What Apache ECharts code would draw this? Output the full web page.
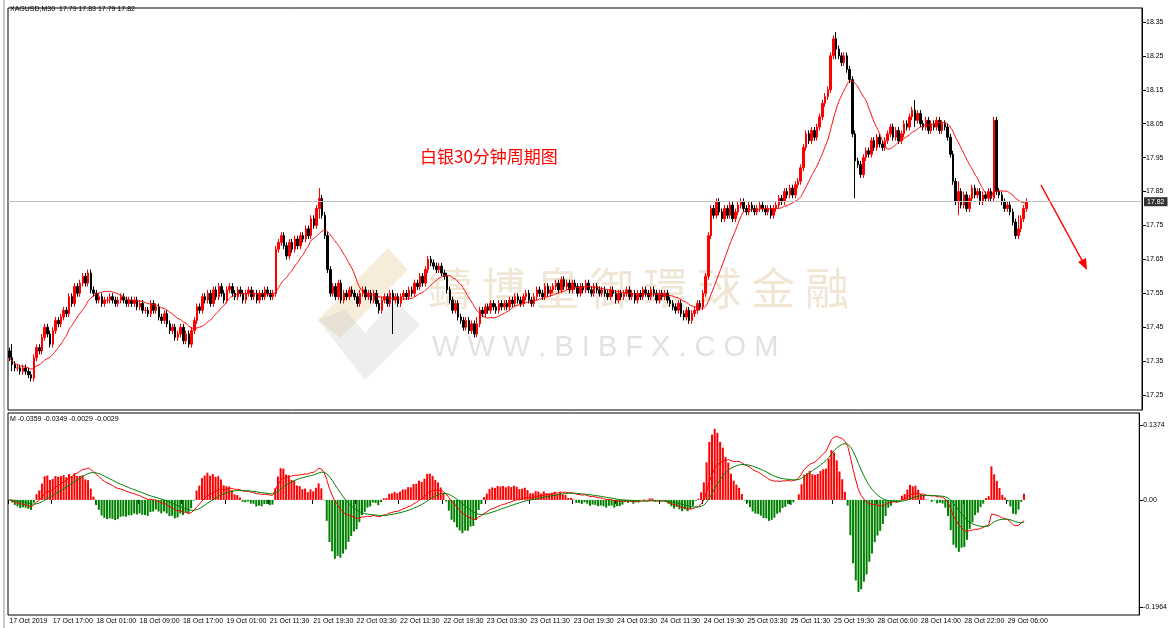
<!DOCTYPE html>
<html><head><meta charset="utf-8">
<script src="https://cdn.jsdelivr.net/npm/echarts@6/dist/echarts.min.js"></script>
<style>html,body{margin:0;padding:0;background:#fff}#c{width:1170px;height:628px}</style>
</head><body><div id="c"></div>
<script>
const closes = [
17.36,17.34,17.33,17.33,17.32,17.33,17.32,17.31,17.30,
17.36,17.39,17.38,17.42,17.45,17.43,17.40,17.44,17.47,17.46,
17.48,17.50,17.49,17.54,17.52,17.57,17.55,17.58,17.60,17.58,17.61,17.56,
17.55,17.53,17.54,17.52,17.53,17.53,17.54,17.53,17.52,17.53,17.54,17.53,17.52,17.53,17.52,17.53,
17.51,17.52,17.50,17.50,17.49,17.52,17.50,17.51,17.48,17.47,17.49,
17.46,17.44,17.45,17.42,17.43,17.45,17.41,17.43,17.40,
17.44,17.47,17.51,17.50,17.54,17.53,
17.55,17.52,17.56,17.54,17.57,17.55,17.53,17.56,17.57,17.55,17.54,17.56,17.55,17.53,17.55,17.56,17.54,17.55,17.53,17.55,17.54,17.56,17.55,17.54,17.55,
17.68,17.70,17.72,17.69,17.66,17.70,17.68,17.71,17.69,17.72,
17.71,17.74,17.72,17.77,17.75,17.80,17.83,17.78,
17.72,17.62,17.55,
17.57,17.54,17.58,17.53,17.55,17.54,17.56,17.55,17.54,17.52,17.55,17.56,17.54,17.55,17.53,17.55,17.52,17.50,17.53,17.54,17.52,17.55,17.53,17.54,17.52,17.54,17.55,17.54,17.56,
17.55,17.58,17.57,17.60,17.58,17.62,17.65,17.64,
17.63,17.62,17.63,17.61,17.60,
17.56,17.53,17.50,17.52,17.48,17.47,17.45,17.47,17.44,17.46,17.43,17.46,
17.50,17.49,17.51,17.50,17.52,17.51,17.50,17.52,17.51,
17.52,17.51,17.53,17.52,17.54,17.53,17.52,17.54,17.55,17.53,17.52,17.54,17.56,17.55,17.54,17.57,17.55,17.56,
17.57,17.58,17.56,17.59,17.57,17.58,17.56,17.58,17.57,17.55,17.57,17.56,17.58,17.56,17.55,17.57,17.56,17.55,17.56,
17.55,17.54,17.56,17.55,17.53,17.55,17.54,17.55,17.56,17.54,17.55,17.53,17.55,17.54,17.56,17.55,17.54,17.56,17.55,17.53,17.55,17.54,17.55,17.53,17.52,
17.51,17.50,17.52,17.49,17.48,17.50,17.47,17.49,
17.50,17.52,17.51,17.55,17.60,
17.72,17.80,17.78,17.82,
17.79,17.77,17.80,17.78,17.81,17.77,17.79,17.81,17.82,
17.80,17.79,17.81,17.80,17.79,17.80,17.81,17.80,17.79,17.80,17.78,17.80,17.81,
17.83,17.82,17.85,17.84,17.86,17.84,17.87,17.88,
17.92,17.98,18.02,18.00,18.03,18.01,18.04,
18.07,18.11,18.13,18.15,
18.25,18.30,18.27,
18.25,18.23,18.25,18.21,18.18,
18.02,17.94,17.93,17.90,
17.95,17.97,17.96,18.00,17.98,18.01,17.99,17.98,
18.00,18.02,18.04,18.01,18.03,18.00,18.02,
18.05,18.04,18.07,18.09,18.06,18.08,18.05,
18.04,18.06,18.03,18.05,18.04,18.06,18.03,18.05,18.04,18.01,
17.96,17.88,17.82,
17.85,17.81,17.84,17.80,17.83,17.86,17.84,17.85,17.82,17.84,17.83,17.85,17.83,
18.06,17.85,
17.84,17.82,17.80,17.81,17.79,
17.76,17.72,17.74,17.77,
17.80,17.82];
// notable wicks: [index, high, low]
const wicks = [[1,17.40,17.32],[66,17.44,17.39],[114,17.86,17.77],[141,17.56,17.43],[172,17.48,17.42],[304,18.32,18.24],[311,17.97,17.83],[333,18.12,18.04],[349,17.88,17.78],[371,17.78,17.71]];
const timeLabels = ["17 Oct 2019","17 Oct 17:00","18 Oct 01:00","18 Oct 09:00","18 Oct 17:00","19 Oct 01:00","21 Oct 11:30","21 Oct 19:30","22 Oct 03:30","22 Oct 11:30","22 Oct 19:30","23 Oct 03:30","23 Oct 11:30","23 Oct 19:30","24 Oct 03:30","24 Oct 11:30","24 Oct 19:30","25 Oct 03:30","25 Oct 11:30","25 Oct 19:30","28 Oct 06:00","28 Oct 14:00","28 Oct 22:00","29 Oct 06:00"];
const priceTicks = [18.35,18.25,18.15,18.05,17.95,17.85,17.75,17.65,17.55,17.45,17.35,17.25];
const macdTicks = [0.1374,0,-0.1964];
const lastPrice = 17.82;

const TOTAL = 417;
const cats = [];
for (let i=0;i<TOTAL;i++) cats.push(i%16===0 && timeLabels[i/16] ? timeLabels[i/16] : 'b'+i);
const wmap = {}; wicks.forEach(w=>wmap[w[0]]=w);
const ohlc = closes.map((c,i)=>{
  const o = i===0 ? 17.38 : closes[i-1];
  let h = Math.max(o,c)+0.01, l = Math.min(o,c)-0.01;
  if (wmap[i]) { h = Math.max(h,wmap[i][1]); l = Math.min(l,wmap[i][2]); }
  return [o,c,l,h];
});
const MAN=14, ma=closes.map((c,i)=>{ const st=Math.max(0,i-MAN+1); let s=0; for(let k=st;k<=i;k++) s+=closes[k]; return +(s/(i-st+1)).toFixed(4);});
function ema(arr,n){const a=2/(n+1);let r=[],p=arr[0];arr.forEach((v,i)=>{p=i?p+a*(v-p):v;r.push(p);});return r;}
const e12=ema(closes,12), e26=ema(closes,26);
const dif=closes.map((_,i)=>e12[i]-e26[i]);
const dea=ema(dif,9);
const hist=dif.map((v,i)=>{const h=3.5*(v-dea[i]);return {value:h,itemStyle:{color:h>=0?'#ff0000':'#008000'}};});

const F='Liberation Sans';
const isLab=(i)=>i%16===0&&i<=368;
const chart = echarts.init(document.getElementById('c'));
chart.setOption({
  animation:false,
  textStyle:{fontFamily:F},
  grid:[{left:8,right:28,top:8,height:402,show:true,borderColor:'#000',borderWidth:1,z:0},
        {left:8,right:28,top:413,height:202,show:true,borderColor:'#000',borderWidth:1,z:0}],
  xAxis:[
    {type:'category',data:cats,gridIndex:0,boundaryGap:true,axisLine:{show:false},axisTick:{show:false},axisLabel:{show:false},splitLine:{show:false}},
    {type:'category',data:cats,gridIndex:1,boundaryGap:true,axisLine:{show:false},
     axisTick:{show:true,interval:isLab,length:4,lineStyle:{color:'#000'}},
     axisLabel:{interval:isLab,showMinLabel:true,hideOverlap:false,fontSize:7,color:'#000',align:'left',margin:3,fontFamily:F},splitLine:{show:false}}
  ],
  yAxis:[
    {type:'value',gridIndex:0,position:'right',min:17.206,max:18.391,
     axisLine:{show:true,lineStyle:{color:'#000'}},
     axisTick:{show:true,customValues:priceTicks,length:4,lineStyle:{color:'#000'}},
     axisLabel:{customValues:priceTicks,fontSize:7,color:'#000',margin:4,formatter:v=>v.toFixed(2)},splitLine:{show:false}},
    {type:'value',gridIndex:1,position:'right',min:-0.2111,max:0.1594,
     axisLine:{show:true,lineStyle:{color:'#000'}},
     axisTick:{show:true,customValues:macdTicks,length:4,lineStyle:{color:'#000'}},
     axisLabel:{customValues:macdTicks,fontSize:7,color:'#000',margin:4,formatter:v=>v===0?'0.00':v.toFixed(4)},splitLine:{show:false}}
  ],
  series:[
    {type:'candlestick',xAxisIndex:0,yAxisIndex:0,data:ohlc,barWidth:2,
     itemStyle:{color:'#ff0000',color0:'#000000',borderColor:'#ff0000',borderColor0:'#000000',borderWidth:1},
     markLine:{symbol:'none',silent:true,data:[{yAxis:lastPrice}],lineStyle:{color:'#c0c0c0',type:'solid',width:1},
       label:{position:'end',formatter:'17.82',color:'#fff',backgroundColor:'#333',padding:[1,3],fontSize:7,distance:2}}},
    {type:'line',xAxisIndex:0,yAxisIndex:0,data:ma,showSymbol:false,lineStyle:{color:'#ff0000',width:1},smooth:true},
    {type:'bar',xAxisIndex:1,yAxisIndex:1,data:hist,barWidth:2},
    {type:'line',xAxisIndex:1,yAxisIndex:1,data:dif,showSymbol:false,lineStyle:{color:'#ff0000',width:1}},
    {type:'line',xAxisIndex:1,yAxisIndex:1,data:dea,showSymbol:false,lineStyle:{color:'#008000',width:1}}
  ],
  graphic:[
    {type:'rect',left:3,top:0,shape:{width:2,height:628},style:{fill:'#c8c8c8'},z:-1},
    {type:'text',left:10,top:6,style:{text:'XAGUSD,M30  17.79 17.83 17.79 17.82',fontSize:7,fill:'#000',fontFamily:F}},
    {type:'text',left:10,top:416,style:{text:'M -0.0359 -0.0349 -0.0029 -0.0029',fontSize:7,fill:'#000',fontFamily:F}},
    {type:'text',left:420,top:148,style:{text:'白银30分钟周期图',fontSize:17,fill:'#ff0000',fontFamily:'Noto Sans CJK SC'}},
    {type:'polygon',shape:{points:[[388,248],[408,270],[340,338],[318,320]]},style:{fill:'rgba(225,200,150,0.35)'},z:-2},
    {type:'polygon',shape:{points:[[318,320],[365,380],[420,325],[395,300],[365,333],[345,310]]},style:{fill:'rgba(200,200,200,0.3)'},z:-2},
    {type:'text',left:428,top:266,style:{text:'鑄 博 皇 御 環 球 金 融',fontSize:44,fill:'rgba(225,200,160,0.45)',fontFamily:'Noto Sans CJK TC'},z:-2},
    {type:'text',left:432,top:333,style:{text:'W W W . B I B F X . C O M',fontSize:29,fill:'rgba(190,190,190,0.45)',fontFamily:F},z:-2},
    {type:'line',shape:{x1:1041,y1:185,x2:1084,y2:264},style:{stroke:'#ff0000',lineWidth:1.5}},
    {type:'polygon',shape:{points:[[1087,270],[1078,262],[1086,258]]},style:{fill:'#ff0000'}}
  ]
});
</script></body></html>
